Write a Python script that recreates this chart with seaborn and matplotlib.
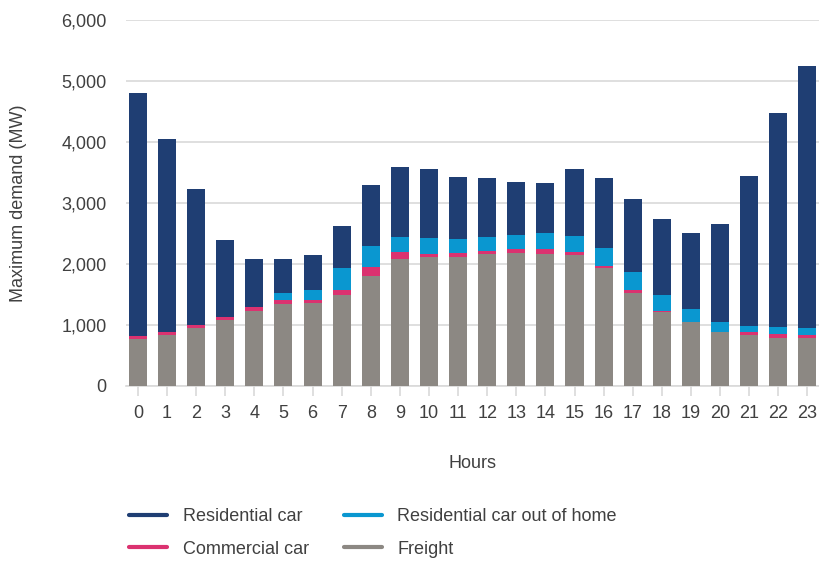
import matplotlib
matplotlib.use("Agg")
import matplotlib.pyplot as plt
from matplotlib.lines import Line2D
import seaborn as sns
import numpy as np
import pandas as pd

hours = [str(h) for h in range(24)]
freight = [770, 830, 950, 1080, 1230, 1340, 1360, 1490, 1800, 2080, 2110, 2110,
           2160, 2180, 2160, 2145, 1930, 1520, 1210, 1045, 880, 830, 785, 785]
commercial = [50, 50, 50, 50, 65, 65, 50, 80, 150, 120, 55, 65,
              50, 65, 80, 55, 40, 50, 15, 0, 0, 50, 65, 50]
out_of_home = [0, 0, 0, 0, 0, 115, 165, 360, 345, 240, 260, 230,
               230, 230, 265, 260, 290, 295, 265, 215, 165, 100, 115, 115]
residential = [3990, 3170, 2230, 1262, 785, 558, 575, 690, 1000, 1150, 1135, 1020,
               970, 870, 820, 1100, 1150, 1200, 1250, 1250, 1610, 2460, 3510, 4300]

colors = {"Residential car": "#1F3E73",
          "Residential car out of home": "#0A97D0",
          "Commercial car": "#DB3270",
          "Freight": "#8C8883"}

sns.set_theme(style="white")
plt.rcParams["font.family"] = ["Liberation Sans", "DejaVu Sans"]
text_color = "#404040"
fs = 13

df = pd.DataFrame({"hour": hours,
                   "Freight": freight,
                   "Commercial car": commercial,
                   "Residential car out of home": out_of_home,
                   "Residential car": residential})

# cumulative layers (drawn tallest first)
layers = ["Freight", "Commercial car", "Residential car out of home", "Residential car"]
cum = np.zeros(len(hours))
cums = {}
for name in layers:
    cum = cum + df[name].to_numpy()
    cums[name] = cum.copy()

fig = plt.figure(figsize=(8.19, 5.61), dpi=100)
ax = fig.add_axes([126 / 819, 1 - 386 / 561, 1 - 126 / 819, (386 - 20) / 561])

for name in reversed(layers):
    d = pd.DataFrame({"hour": hours, "val": cums[name]})
    sns.barplot(data=d, x="hour", y="val", order=hours, color=colors[name],
                saturation=1, width=0.62, ax=ax, linewidth=0, zorder=3)

ax.set_ylim(0, 6000)
ax.set_xlim(-0.41, 23.4)
ax.set_yticks(range(0, 6001, 1000))
ax.set_yticklabels([f"{v:,}" for v in range(0, 6001, 1000)])
ax.yaxis.grid(True, color="#d9d9d9", linewidth=1.2, zorder=0)
ax.set_axisbelow(True)
for s in ["top", "right", "left"]:
    ax.spines[s].set_visible(False)
ax.spines["bottom"].set_color("#d9d9d9")
ax.spines["bottom"].set_linewidth(1.2)
ax.tick_params(axis="x", length=7, width=1.2, color="#d9d9d9", labelsize=fs,
               labelcolor=text_color, pad=7, bottom=True)
ax.tick_params(axis="y", length=0, labelsize=fs, labelcolor=text_color, pad=14)
ax.set_xlabel("Hours", fontsize=fs, color=text_color)
ax.xaxis.set_label_coords(0.5, -(463 - 386) / 366, transform=ax.transAxes)
ax.set_ylabel("Maximum demand (MW)", fontsize=fs, color=text_color)
ax.yaxis.set_label_coords(-(126 - 19) / 693, 0.5)
ax.yaxis.label.set_va("center")
ax.xaxis.label.set_va("center")

order = ["Residential car", "Commercial car", "Residential car out of home", "Freight"]
handles = [Line2D([0], [0], color=colors[n], lw=3) for n in order]
fig.legend(handles, order, loc="upper left", bbox_to_anchor=(113 / 819, 1 - 492 / 561),
           ncol=2, frameon=False, fontsize=fs, handlelength=2.1, handletextpad=0.85,
           columnspacing=1.95, labelspacing=0.85, labelcolor=text_color)

fig.savefig("out.png", dpi=100)
